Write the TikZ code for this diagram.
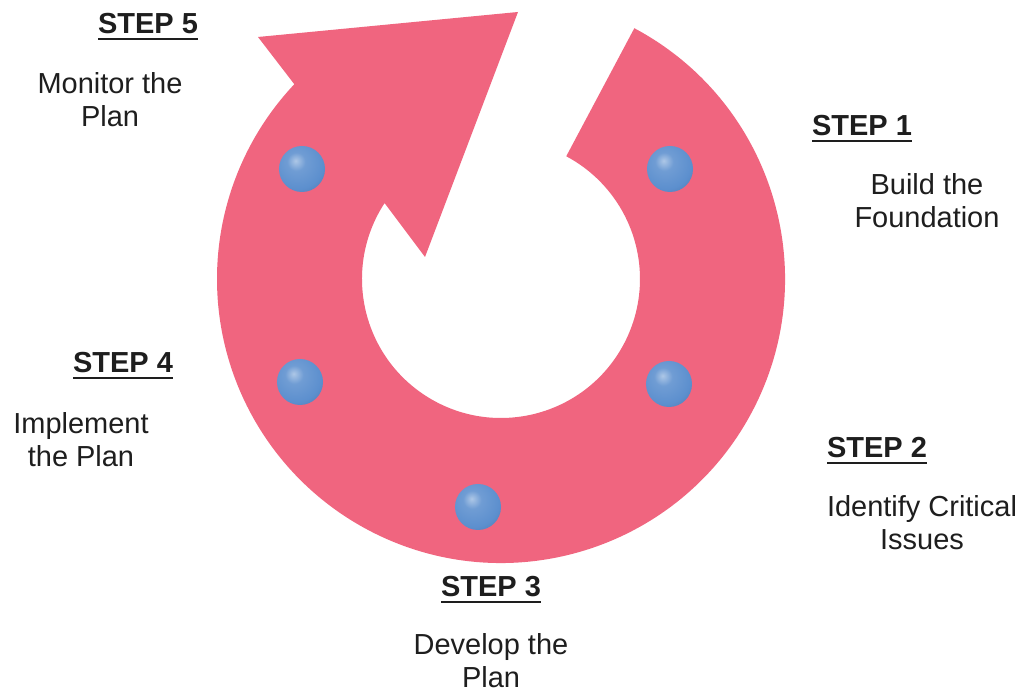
\documentclass[tikz,border=0pt]{standalone}
\usepackage{fontspec}
\setmainfont{Liberation Sans}
\usetikzlibrary{calc}
\definecolor{ringpink}{RGB}{240,101,127}
\definecolor{beadblue}{RGB}{92,143,206}
\definecolor{inktext}{RGB}{30,30,30}
\newcommand{\ulstep}[1]{\leavevmode\setbox0=\hbox{#1}\rlap{\rule[-4.4pt]{\wd0}{1.5pt}}\box0}
\pgfdeclareradialshading{beadshade}{\pgfqpoint{-7bp}{9bp}}{%
  color(0bp)=(beadblue!50!white); color(10bp)=(beadblue!88!white);
  color(28bp)=(beadblue); color(44bp)=(beadblue!80!black);
  color(54bp)=(beadblue!55!black); color(90bp)=(beadblue!55!black)}
\tikzset{
  steptitle/.style={font=\fontsize{20.6}{23.8}\selectfont\bfseries, text=inktext,
    anchor=base, inner sep=0pt},
  steptext/.style={font=\fontsize{20.6}{23.8}\selectfont, text=inktext,
    align=center, anchor=base, inner sep=0pt},
}

\begin{document}
\begin{tikzpicture}[
  x=0.025cm, y=0.025cm,
  bead/.style={circle, shading=beadshade, minimum size=1.15cm, inner sep=0pt},
]
\fill[white] (0,0) rectangle (1035,695);
\useasboundingbox (0,0) rectangle (1035,695);
% ring with arrow head
\coordinate (hub) at (501,416);
\fill[ringpink] (hub) ++(62:284) arc[start angle=62, end angle=-223.3, radius=284]
  -- (258,658) -- (518,683) -- (425,438)
  -- ($(hub)+(-213.1:139)$) arc[start angle=-213.1, end angle=62, radius=139] -- cycle;
% beads
\foreach \n/\x/\y in {b1/670/526, b2/669/311, b3/478/188, b4/300/313, b5/302/526}
  \node[bead] at (\x,\y) (\n) {};
% step titles
\node[steptitle] at (862,559) (st1) {\ulstep{STEP 1}};
\node[steptitle] at (877,237) (st2) {\ulstep{STEP 2}};
\node[steptitle] at (491,98)  (st3) {\ulstep{STEP 3}};
\node[steptitle] at (123,322) (st4) {\ulstep{STEP 4}};
\node[steptitle] at (148,661) (st5) {\ulstep{STEP 5}};
% step texts (base = last line)
\node[steptext] at (927,467) (tx1) {Build the\\Foundation};
\node[steptext] at (922,145) (tx2) {Identify Critical\\Issues};
\node[steptext] at (491,7)   (tx3) {Develop the\\Plan};
\node[steptext] at (81,228)  (tx4) {Implement\\the Plan};
\node[steptext] at (110,568) (tx5) {Monitor the\\Plan};
\end{tikzpicture}
\end{document}
